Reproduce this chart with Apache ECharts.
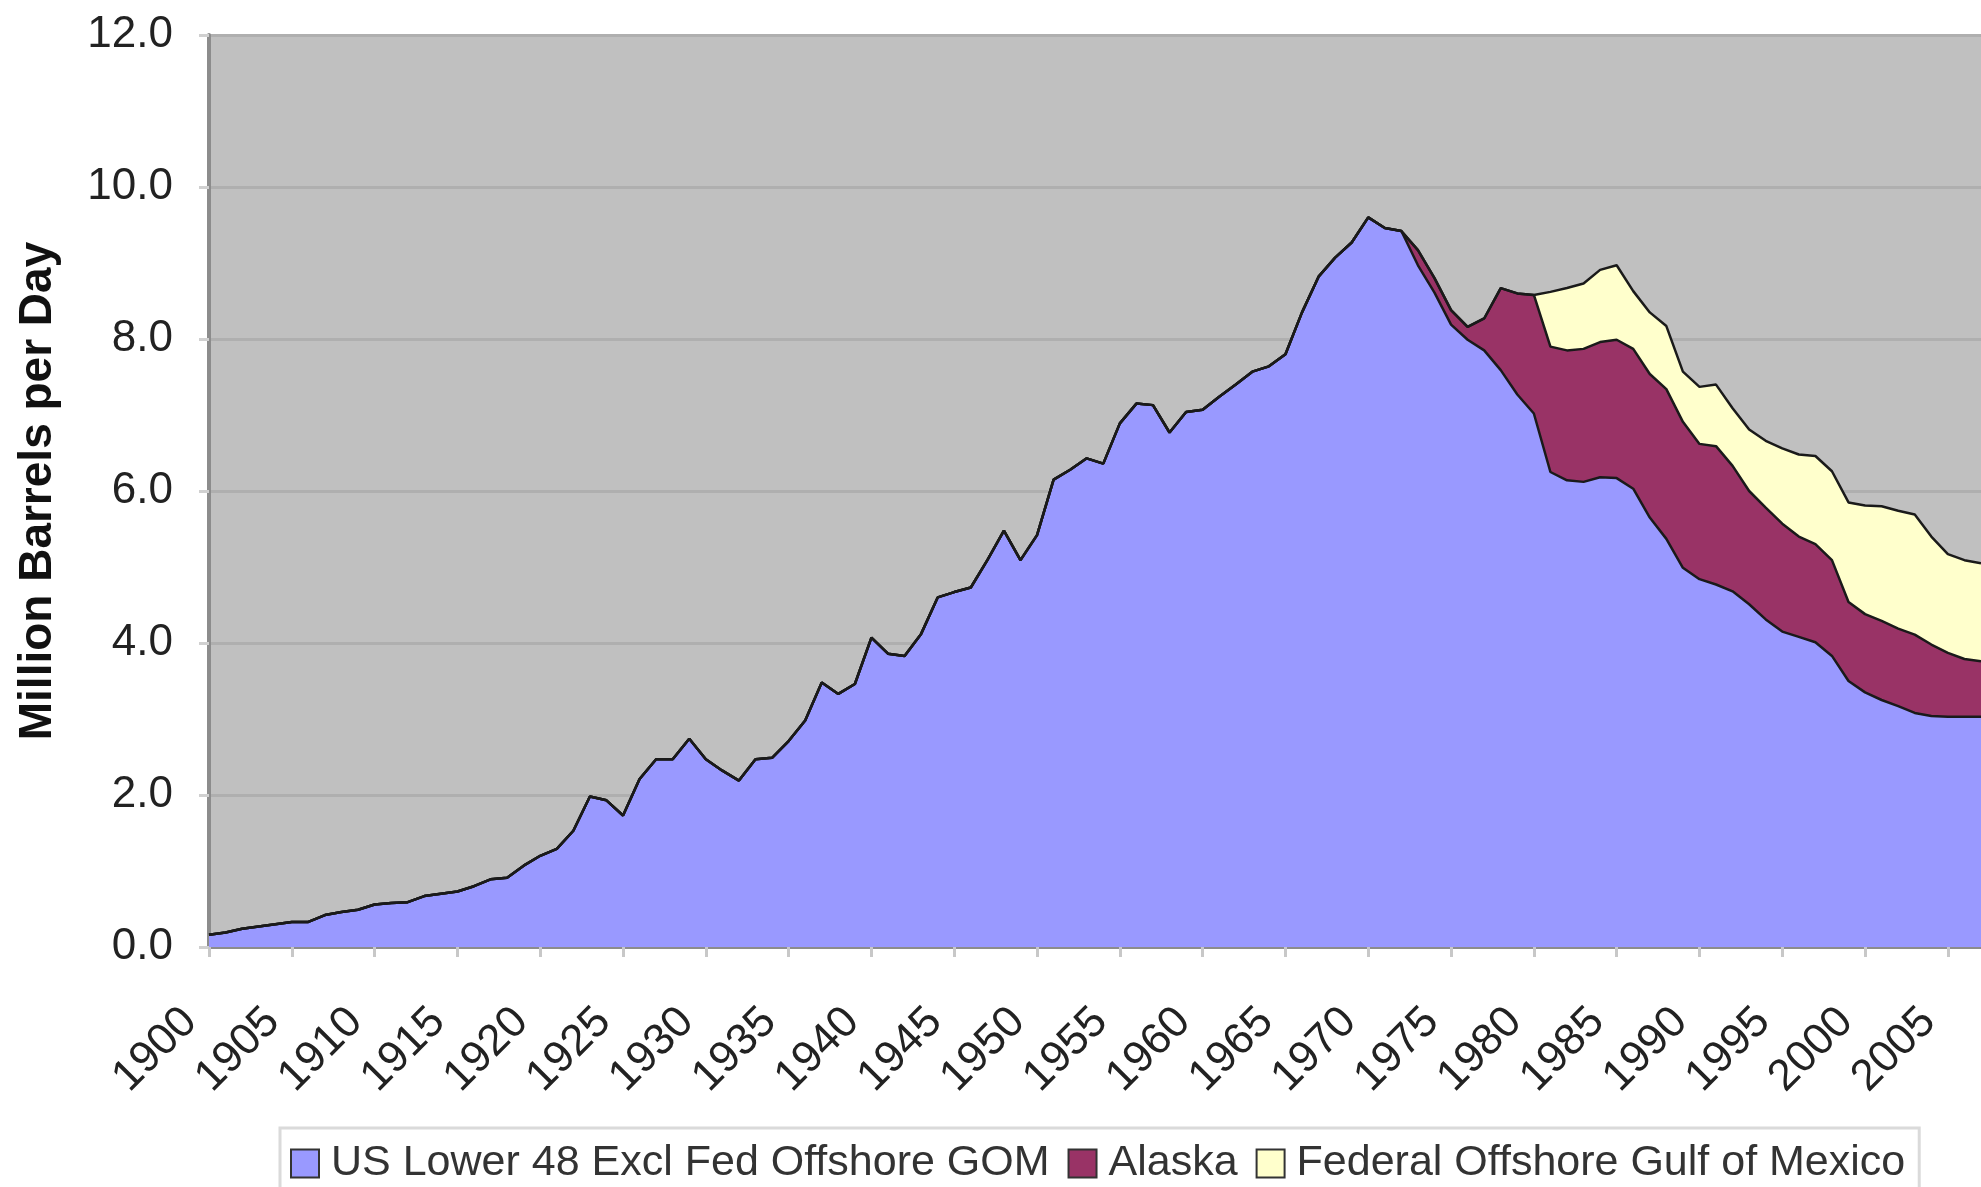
<!DOCTYPE html>
<html>
<head>
<meta charset="utf-8">
<script src="https://cdn.jsdelivr.net/npm/echarts@6/dist/echarts.min.js"></script>
<style>
html,body{margin:0;padding:0;background:#fff;}
#chart{width:1981px;height:1187px;}
</style>
</head>
<body>
<div id="chart"></div>
<script>
// Years 1900..2007
var years = [];
for (var y = 1900; y <= 2007; y++) years.push(String(y));

// US Lower 48 excluding Federal Offshore GOM (million barrels per day)
var lower48 = [
  0.16,0.19,0.24,0.27,0.30,0.33,0.33,0.42,0.46,0.49,
  0.56,0.58,0.59,0.67,0.70,0.73,0.80,0.89,0.91,1.07,
  1.20,1.29,1.53,1.98,1.93,1.73,2.21,2.47,2.47,2.74,
  2.47,2.32,2.19,2.47,2.49,2.71,2.98,3.48,3.33,3.46,
  4.07,3.86,3.83,4.12,4.60,4.67,4.73,5.09,5.48,5.09,
  5.42,6.15,6.28,6.43,6.36,6.89,7.15,7.13,6.77,7.04,
  7.07,7.24,7.40,7.57,7.64,7.80,8.35,8.82,9.07,9.27,
  9.60,9.46,9.42,8.97,8.61,8.19,7.99,7.85,7.59,7.27,
  7.02,6.25,6.14,6.12,6.18,6.17,6.03,5.65,5.37,4.99,
  4.84,4.77,4.68,4.51,4.31,4.15,4.08,4.01,3.83,3.50,
  3.35,3.25,3.17,3.08,3.04,3.03,3.03,3.03
];

// Alaska
var alaska = [
  0,0,0,0,0,0,0,0,0,0,
  0,0,0,0,0,0,0,0,0,0,
  0,0,0,0,0,0,0,0,0,0,
  0,0,0,0,0,0,0,0,0,0,
  0,0,0,0,0,0,0,0,0,0,
  0,0,0,0,0,0,0,0,0,0,
  0,0,0,0,0,0,0,0,0,0,
  0,0,0,0.20,0.19,0.19,0.17,0.42,1.08,1.33,
  1.56,1.65,1.71,1.75,1.78,1.82,1.84,1.89,1.97,1.92,
  1.78,1.82,1.65,1.49,1.47,1.42,1.32,1.29,1.26,1.04,
  1.03,1.04,1.02,1.03,0.94,0.84,0.76,0.73
];

// Federal Offshore Gulf of Mexico
var gom = [
  0,0,0,0,0,0,0,0,0,0,
  0,0,0,0,0,0,0,0,0,0,
  0,0,0,0,0,0,0,0,0,0,
  0,0,0,0,0,0,0,0,0,0,
  0,0,0,0,0,0,0,0,0,0,
  0,0,0,0,0,0,0,0,0,0,
  0,0,0,0,0,0,0,0,0,0,
  0,0,0,0,0,0,0,0,0,0,
  0,0.72,0.82,0.86,0.95,0.98,0.76,0.81,0.83,0.66,
  0.75,0.81,0.76,0.81,0.88,0.99,1.08,1.16,1.17,1.31,
  1.43,1.51,1.55,1.58,1.42,1.30,1.30,1.29
];

var seriesNames = ['US Lower 48 Excl Fed Offshore GOM', 'Alaska', 'Federal Offshore Gulf of Mexico'];
var seriesColors = ['#9999FF', '#993366', '#FFFFCC'];
var seriesData = [lower48, alaska, gom];

var FONT = '"Liberation Sans", Arial, sans-serif';

var chart = echarts.init(document.getElementById('chart'), null, {renderer: 'canvas'});

var series = seriesNames.map(function (name, i) {
  return {
    name: name,
    type: 'line',
    stack: 'total',
    data: seriesData[i],
    showSymbol: false,
    symbol: 'none',
    smooth: false,
    lineStyle: {color: '#1a1a1a', width: 2.5},
    itemStyle: {color: seriesColors[i], borderColor: '#333', borderWidth: 2},
    areaStyle: {color: seriesColors[i], opacity: 1},
    emphasis: {disabled: true},
    animation: false
  };
});

chart.setOption({
  animation: false,
  backgroundColor: '#ffffff',
  textStyle: {fontFamily: FONT},
  grid: {
    left: 209, right: 0, top: 35, bottom: 240,
    show: true, backgroundColor: '#C0C0C0', borderWidth: 0
  },
  legend: {
    left: 280, top: 1128,
    padding: [14, 14, 14, 10],
    itemGap: 18,
    itemWidth: 28, itemHeight: 28,
    icon: 'rect',
    backgroundColor: '#ffffff',
    borderColor: '#DADADA', borderWidth: 3,
    textStyle: {fontSize: 43, color: '#333', fontFamily: FONT, padding: [0,0,0,7]},
    data: seriesNames
  },
  xAxis: {
    type: 'category',
    data: years,
    boundaryGap: false,
    axisLine: {show: true, lineStyle: {color: '#8C8C8C', width: 4}},
    axisTick: {show: true, interval: 4, length: 10, lineStyle: {color: '#C8C8C8', width: 3}},
    axisLabel: {
      interval: 4, rotate: 45, margin: 49,
      padding: [0, 27, 0, 0],
      fontSize: 44, color: '#222', fontFamily: FONT
    },
    splitLine: {show: false}
  },
  yAxis: {
    type: 'value',
    min: 0, max: 12, interval: 2,
    name: 'Million Barrels per Day',
    nameLocation: 'middle',
    nameGap: 148,
    nameTextStyle: {fontSize: 46, fontWeight: 'bold', color: '#111', fontFamily: FONT},
    axisLine: {show: true, lineStyle: {color: '#8C8C8C', width: 4}},
    axisTick: {show: true, length: 10, lineStyle: {color: '#D0D0D0', width: 3}},
    axisLabel: {
      margin: 36, fontSize: 44, color: '#222', fontFamily: FONT,
      formatter: function (v) { return v.toFixed(1); }
    },
    splitLine: {show: true, lineStyle: {color: '#AFAFAF', width: 3}}
  },
  series: series
});
</script>
</body>
</html>
